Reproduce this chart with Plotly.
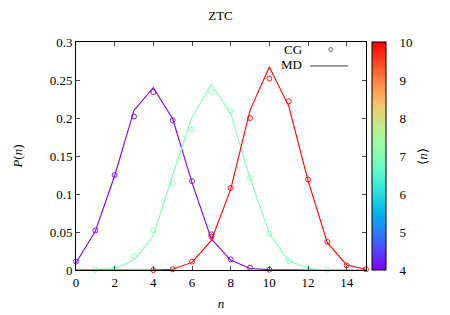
import numpy as np
import plotly.graph_objects as go

# ---------------- data ----------------
n = list(range(16))
n_mean = [4, 7, 10]

md_4 = [0.0096, 0.051, 0.124, 0.21, 0.240, 0.199, 0.115, 0.041, 0.013, 0.002, 0.0005, 0, 0, 0, 0, 0]
cg_4_n = list(range(0, 11))
cg_4 = [0.011, 0.052, 0.125, 0.202, 0.234, 0.197, 0.117, 0.047, 0.014, 0.003, 0.0005]

md_7 = [0, 0.0005, 0.002, 0.013, 0.045, 0.125, 0.201, 0.244, 0.206, 0.121, 0.048, 0.012, 0.002, 0.0003, 0, 0]
cg_7_n = list(range(1, 14))
cg_7 = [0.0003, 0.002, 0.018, 0.052, 0.114, 0.185, 0.234, 0.209, 0.121, 0.048, 0.012, 0.002, 0.0005]

md_10 = [0, 0, 0, 0, 0, 0.001, 0.010, 0.039, 0.106, 0.21, 0.267, 0.216, 0.118, 0.036, 0.0066, 0.001]
cg_10_n = list(range(4, 16))
cg_10 = [0, 0.001, 0.011, 0.044, 0.108, 0.2, 0.252, 0.222, 0.119, 0.037, 0.006, 0.001]

x_ticks = [0, 2, 4, 6, 8, 10, 12, 14]
y_ticks = [0, 0.05, 0.1, 0.15, 0.2, 0.25, 0.3]
y_ticklabels = ["0", "0.05", "0.1", "0.15", "0.2", "0.25", "0.3"]
cb_ticks = [4, 5, 6, 7, 8, 9, 10]
cmin, cmax = 4, 10

# --------------- colours (rainbow) ---------------
def rainbow(t):
    r = abs(2 * t - 0.5)
    g = np.sin(np.pi * t)
    b = np.cos(np.pi * t / 2)
    r, g, b = [int(round(255 * min(max(v, 0), 1))) for v in (r, g, b)]
    return f"rgb({r},{g},{b})"

colorscale = [[t, rainbow(t)] for t in np.linspace(0, 1, 21)]
def col(v):
    return rainbow((v - cmin) / (cmax - cmin))

FONT = "Liberation Serif"
fig = go.Figure()

series = [(md_4, cg_4_n, cg_4, n_mean[0]),
          (md_7, cg_7_n, cg_7, n_mean[1]),
          (md_10, cg_10_n, cg_10, n_mean[2])]
for md, cn, cg, m in series:
    c = col(m)
    fig.add_trace(go.Scatter(x=n, y=md, mode="lines", line=dict(color=c, width=1.1),
                             showlegend=False, hoverinfo="skip", cliponaxis=True))
    fig.add_trace(go.Scatter(x=cn, y=cg, mode="markers",
                             marker=dict(symbol="circle-open", size=5, color=c, line=dict(width=0.9)),
                             showlegend=False, hoverinfo="skip", cliponaxis=False))

# colorbar carrier
CB_X0 = 1.0207
CB_W = 14 / 290
fig.add_trace(go.Scatter(
    x=[None], y=[None], mode="markers", showlegend=False, hoverinfo="skip",
    marker=dict(color=[cmin], cmin=cmin, cmax=cmax, colorscale=colorscale, showscale=True,
                colorbar=dict(x=CB_X0, xanchor="left", xpad=0, y=0, yanchor="bottom", ypad=0,
                              len=1, lenmode="fraction", thickness=14, outlinecolor="black",
                              outlinewidth=1, tickvals=cb_ticks, ticks="outside", ticklen=11,
                              tickcolor="rgba(0,0,0,0)",
                              tickfont=dict(family=FONT, size=13, color="black")))))

# inner tick marks on both sides of the colour bar (gnuplot style)
for v in cb_ticks[1:-1]:
    yp = (v - cmin) / (cmax - cmin)
    for xa, xb in [(CB_X0, CB_X0 + 4 / 290), (CB_X0 + CB_W - 4 / 290, CB_X0 + CB_W)]:
        fig.add_shape(type="line", xref="paper", yref="paper", x0=xa, x1=xb, y0=yp, y1=yp,
                      line=dict(color="rgba(0,0,0,0.8)", width=1))

fig.update_layout(
    width=450, height=315,
    margin=dict(l=76, r=84, t=42, b=45, autoexpand=False),
    paper_bgcolor="white", plot_bgcolor="white",
    font=dict(family=FONT, size=13, color="black"),
    title=dict(text="ZTC", x=0.49, xanchor="center", y=0.95, yanchor="middle",
               font=dict(family=FONT, size=13)),
    xaxis=dict(range=[0, 15], tickvals=x_ticks, ticks="inside", ticklen=4, mirror="allticks",
               showline=True, linecolor="black", linewidth=1, showgrid=False, zeroline=False,
               automargin=False,
               title=dict(text="<i>n</i>", standoff=10, font=dict(family=FONT, size=13))),
    yaxis=dict(range=[0, 0.3], tickvals=y_ticks, ticktext=y_ticklabels, ticks="inside", ticklen=4,
               mirror="allticks", showline=True, linecolor="black", linewidth=1, showgrid=False,
               zeroline=False, automargin=False,
               title=dict(text="<i>P</i>(<i>n</i>)", standoff=24, font=dict(family=FONT, size=13))),
)

# colorbar title
fig.add_annotation(text="⟨<i>n</i>⟩", xref="paper", yref="paper", x=1.225, y=0.5,
                   textangle=-90, showarrow=False, font=dict(family=FONT, size=13))

# legend (gnuplot style: text then sample)
fig.add_annotation(text="CG", xref="paper", yref="paper", x=0.785, y=0.965, xanchor="right",
                   yanchor="middle", showarrow=False, font=dict(family=FONT, size=13))
fig.add_annotation(text="MD", xref="paper", yref="paper", x=0.785, y=0.9, xanchor="right",
                   yanchor="middle", showarrow=False, font=dict(family=FONT, size=13))
fig.add_shape(type="circle", xref="paper", yref="paper", x0=0.872, x1=0.885, y0=0.958, y1=0.976,
              line=dict(color="#444", width=0.8))
fig.add_shape(type="line", xref="paper", yref="paper", x0=0.807, x1=0.938, y0=0.895, y1=0.895,
              line=dict(color="#444", width=1))

fig.write_html("out.html", config={"displayModeBar": False},
               post_script="document.body.style.margin='0';")
